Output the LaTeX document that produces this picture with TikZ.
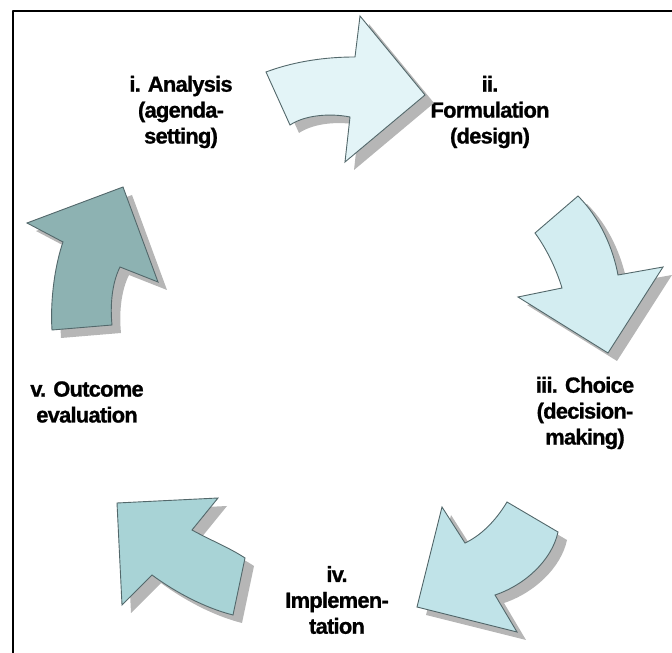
\documentclass[tikz,border=0pt]{standalone}
\usepackage{fontspec}
\newfontfamily\stagefont[LetterSpace=-3.5,FakeBold=1]{Liberation Sans}
\usetikzlibrary{shadows}
\definecolor{edgecol}{HTML}{53686B}
\definecolor{shadecol}{HTML}{B6B6B6}
\definecolor{fillA}{HTML}{E3F4F7}
\definecolor{fillB}{HTML}{D3EDF1}
\definecolor{fillC}{HTML}{C0E3E8}
\definecolor{fillD}{HTML}{A8D3D6}
\definecolor{fillE}{HTML}{8DB2B2}
\tikzset{
  stage/.style={align=center,inner sep=0pt,font=\stagefont\bfseries\fontsize{22}{26}\selectfont},
  bentarrow/.style={draw=edgecol,line width=0.9bp,line join=miter,
    drop shadow={shadow xshift=9bp,shadow yshift=-8bp,fill=shadecol,opacity=1}},
}
\begin{document}
\begin{tikzpicture}[line join=bevel,]
%%
\useasboundingbox (0bp,0bp) rectangle (672bp,653bp);
\draw [black,line width=2bp] (13bp,0bp) -- (13bp,642bp) -- (672bp,642bp);
%
  \node (node_0) at (181.0bp,541.0bp) [stage] {i. Analysis\\(agenda-\\setting)};
  \node (node_1) at (490.0bp,541.0bp) [stage] {ii.\\Formulation\\(design)};
  \node (node_2) at (585.0bp,240.0bp) [stage] {iii. Choice\\(decision-\\making)};
  \node (node_3) at (337.0bp,53.0bp) [stage] {iv.\\Implemen-\\tation};
  \node (node_4) at (87.0bp,251.0bp) [stage] {v. Outcome\\evaluation};
%
  \draw [bentarrow,fill=fillA] (266bp,581bp) ..controls (290bp,590bp) and (320bp,596bp) .. (355bp,596bp)
    -- (360bp,637bp) -- (425bp,558bp) -- (345bp,491bp) -- (350bp,536bp)
    ..controls (330bp,540bp) and (305bp,538bp) .. (290bp,528bp) -- cycle;
  \draw [bentarrow,fill=fillB] (578bp,457bp) -- (535bp,420bp)
    ..controls (546bp,405bp) and (556bp,385bp) .. (562bp,365bp)
    -- (518bp,356bp) -- (608bp,300bp) -- (663bp,386bp) -- (618bp,378bp)
    ..controls (613bp,405bp) and (600bp,435bp) .. cycle;
  \draw [bentarrow,fill=fillC] (442bp,146bp) -- (465bp,110bp)
    ..controls (480bp,117bp) and (495bp,131bp) .. (507bp,151bp)
    -- (558bp,121bp)
    ..controls (552bp,93bp) and (525bp,68bp) .. (495bp,58bp)
    -- (517bp,21bp) -- (417bp,46bp) -- cycle;
  \draw [bentarrow,fill=fillD] (117bp,150bp) -- (218bp,155bp) -- (192bp,123bp)
    ..controls (210bp,113bp) and (230bp,105bp) .. (245bp,95bp)
    -- (233bp,38bp)
    ..controls (205bp,45bp) and (175bp,61bp) .. (152bp,78bp)
    -- (122bp,48bp) -- cycle;
  \draw [bentarrow,fill=fillE] (123bp,466bp) -- (158bp,371bp) -- (120bp,386bp)
    ..controls (112bp,370bp) and (110bp,348bp) .. (112bp,328bp)
    -- (52bp,323bp)
    ..controls (50bp,353bp) and (55bp,388bp) .. (63bp,411bp)
    -- (27bp,430bp) -- cycle;
%
\end{tikzpicture}
\end{document}
